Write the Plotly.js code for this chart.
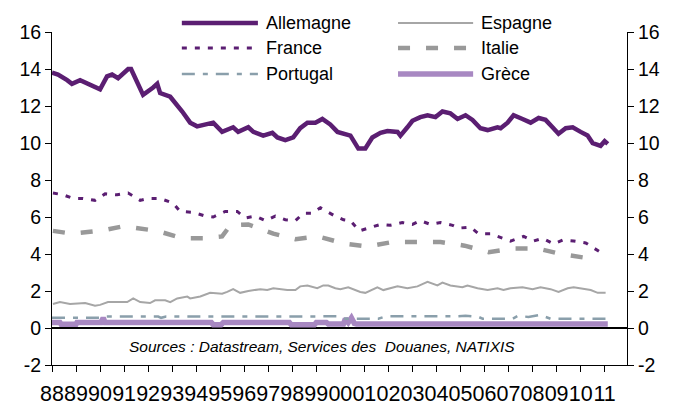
<!DOCTYPE html>
<html>
<head>
<meta charset="utf-8">
<script src="https://cdn.plot.ly/plotly-3.0.1.min.js"></script>
<style>html,body{margin:0;padding:0;background:#fff}#chart{width:681px;height:405px}</style>
</head>
<body>
<div id="chart"></div>
<script>
// ---- data (decimal years) ----
var yearTicks = [1988,1989,1990,1991,1992,1993,1994,1995,1996,1997,1998,1999,2000,2001,2002,2003,2004,2005,2006,2007,2008,2009,2010,2011];
var yearLabels = ['88','89','90','91','92','93','94','95','96','97','98','99','00','01','02','03','04','05','06','07','08','09','10','11'];
var yTicks = [-2,0,2,4,6,8,10,12,14,16];

var allemagneX = [1988.00,1988.25,1988.63,1988.83,1989.17,1989.50,1989.79,1990.00,1990.29,1990.50,1990.75,1991.17,1991.29,1991.79,1992.21,1992.38,1992.50,1992.92,1993.42,1993.75,1994.04,1994.46,1994.71,1995.08,1995.54,1995.75,1996.17,1996.38,1996.79,1997.17,1997.38,1997.71,1998.04,1998.33,1998.63,1998.96,1999.25,1999.58,1999.88,2000.42,2000.75,2001.04,2001.33,2001.67,2001.96,2002.38,2002.50,2002.79,2003.00,2003.33,2003.63,2003.96,2004.25,2004.58,2004.88,2005.21,2005.50,2005.83,2006.13,2006.54,2006.67,2006.96,2007.21,2007.58,2007.92,2008.25,2008.54,2008.83,2009.08,2009.38,2009.67,2010.00,2010.29,2010.50,2010.83,2011.00,2011.13];
var allemagneY = [13.8,13.7,13.4,13.2,13.4,13.2,13.0,12.9,13.6,13.7,13.5,14.0,14.0,12.6,13.0,13.2,12.7,12.5,11.7,11.1,10.9,11.0,11.1,10.6,10.85,10.6,10.85,10.6,10.4,10.55,10.3,10.15,10.3,10.8,11.1,11.1,11.3,11.0,10.6,10.4,9.7,9.7,10.3,10.55,10.65,10.6,10.4,10.85,11.2,11.4,11.5,11.4,11.7,11.6,11.3,11.5,11.25,10.8,10.7,10.85,10.8,11.1,11.5,11.3,11.1,11.35,11.25,10.85,10.5,10.8,10.85,10.6,10.4,10.0,9.85,10.1,9.95];

var espagneX = [1988.04,1988.33,1988.75,1989.17,1989.38,1989.79,1990.00,1990.33,1991.13,1991.38,1991.67,1992.08,1992.29,1992.71,1992.92,1993.21,1993.63,1993.75,1994.17,1994.58,1995.08,1995.29,1995.54,1995.83,1996.17,1996.67,1996.96,1997.21,1997.79,1998.13,1998.33,1998.63,1999.04,1999.29,1999.50,1999.79,2000.00,2000.33,2000.83,2001.04,2001.54,2001.79,2002.38,2002.79,2003.21,2003.46,2003.63,2004.04,2004.25,2004.58,2005.08,2005.29,2005.71,2006.13,2006.54,2006.79,2007.08,2007.58,2008.00,2008.33,2008.75,2009.08,2009.46,2009.71,2010.13,2010.42,2010.71,2011.04];
var espagneY = [1.3,1.4,1.3,1.35,1.35,1.2,1.25,1.4,1.4,1.6,1.4,1.35,1.5,1.5,1.4,1.6,1.7,1.6,1.7,1.9,1.85,1.95,2.1,1.9,2.0,2.1,2.05,2.15,2.05,2.05,2.25,2.3,2.15,2.3,2.3,2.15,2.1,2.2,1.95,1.9,2.2,2.05,2.25,2.15,2.25,2.4,2.5,2.3,2.45,2.3,2.2,2.3,2.15,2.05,2.15,2.05,2.15,2.2,2.1,2.2,2.1,1.95,2.15,2.2,2.1,2.05,1.9,1.9];

var franceX = [1988.04,1988.46,1988.88,1989.29,1989.79,1990.21,1990.71,1991.17,1991.67,1992.00,1992.50,1993.04,1993.33,1993.88,1994.38,1994.71,1995.21,1995.71,1996.04,1996.46,1996.88,1997.29,1997.71,1998.13,1998.46,1998.83,1999.17,1999.71,2000.13,2000.42,2000.79,2001.13,2001.67,2002.08,2002.58,2003.00,2003.33,2003.75,2004.17,2004.67,2004.92,2005.42,2005.75,2006.25,2006.75,2007.08,2007.63,2008.04,2008.42,2008.88,2009.25,2009.71,2010.21,2010.71,2010.88];
var franceY = [7.3,7.2,7.0,7.0,6.9,7.25,7.2,7.3,6.9,7.0,7.0,6.75,6.3,6.25,6.05,6.0,6.3,6.3,5.95,6.05,5.8,6.05,5.85,5.8,6.2,6.2,6.5,6.1,5.85,5.8,5.25,5.4,5.6,5.55,5.7,5.6,5.8,5.6,5.7,5.55,5.4,5.45,5.1,5.1,4.85,4.7,4.95,4.7,4.85,4.55,4.75,4.7,4.6,4.2,4.05];

var italieX = [1988.04,1988.83,1989.58,1990.21,1990.96,1991.58,1992.38,1993.42,1994.29,1995.08,1995.42,1996.17,1997.21,1998.13,1999.08,2000.21,2001.13,2002.17,2003.21,2004.17,2005.17,2006.17,2007.21,2008.21,2009.17,2010.17,2010.63];
var italieY = [5.25,5.1,5.2,5.3,5.5,5.4,5.25,4.85,4.85,4.95,5.55,5.6,5.1,4.8,4.95,4.55,4.4,4.65,4.65,4.65,4.45,4.1,4.3,4.3,4.0,3.8,3.8];

var portugalX = [1988.00,1990.00,1990.17,1992.42,1992.54,1992.75,2000.00,2000.21,2001.58,2001.88,2004.79,2005.21,2005.75,2005.92,2007.17,2007.38,2007.83,2008.25,2008.54,2008.75,2011.13];
var portugalY = [0.55,0.55,0.62,0.62,0.55,0.62,0.63,0.5,0.5,0.63,0.63,0.66,0.6,0.5,0.5,0.65,0.6,0.7,0.6,0.5,0.5];

var greceX = [1988.00,1988.33,1988.38,1989.00,1989.04,1990.04,1990.13,1990.21,1994.63,1994.71,1995.04,1995.13,1997.88,1997.96,1998.92,1999.00,1999.42,1999.50,2000.13,2000.21,2000.33,2000.46,2000.58,2000.67,2011.13];
var greceY = [0.3,0.3,0.2,0.2,0.3,0.3,0.55,0.3,0.3,0.18,0.18,0.3,0.3,0.17,0.17,0.3,0.3,0.22,0.22,0.5,0.3,0.55,0.25,0.22,0.22];

var seriesNames = ['Allemagne','Espagne','France','Italie','Portugal','Grèce'];

// ---- styles ----
var FONT = 'Liberation Sans, Arial, sans-serif';
var styles = {
  'Allemagne': {color:'#5B1E72', width:4.5, dash:'solid'},
  'Espagne':   {color:'#A6A6A6', width:2, dash:'solid'},
  'France':    {color:'#5B1E72', width:3, dash:'5px,8px'},
  'Italie':    {color:'#999999', width:4.5, dash:'12px,16px'},
  'Portugal':  {color:'#8A9FAB', width:2.5, dash:'13px,8px,5px,8px'},
  'Grèce':     {color:'#A888C2', width:5.5, dash:'solid'}
};
var xs = {'Allemagne':allemagneX,'Espagne':espagneX,'France':franceX,'Italie':italieX,'Portugal':portugalX,'Grèce':greceX};
var ys = {'Allemagne':allemagneY,'Espagne':espagneY,'France':franceY,'Italie':italieY,'Portugal':portugalY,'Grèce':greceY};

var drawOrder = ['Grèce','Portugal','Espagne','Italie','France','Allemagne'];
var traces = drawOrder.map(function(n){
  return {x:xs[n], y:ys[n], name:n, type:'scatter', mode:'lines',
          yaxis: (n === 'Allemagne') ? 'y2' : 'y',
          line:{color:styles[n].color, width:styles[n].width, dash:styles[n].dash},
          showlegend:false, hoverinfo:'skip'};
});

// ---- legend built from shapes + annotations (two columns) ----
var legendCols = [['Allemagne','France','Portugal'],['Espagne','Italie','Grèce']];
var colX = [[0.2258,0.3581,0.368],[0.6018,0.7324,0.7430]];
var rowY = [1.027,0.952,0.874];
var shapes = [], annotations = [];
legendCols.forEach(function(col,ci){
  col.forEach(function(n,ri){
    shapes.push({type:'line', xref:'paper', yref:'paper', x0:colX[ci][0], x1:colX[ci][1], y0:rowY[ri], y1:rowY[ri],
      line:{color:styles[n].color, width:styles[n].width, dash:styles[n].dash}});
    annotations.push({xref:'paper', yref:'paper', x:colX[ci][2], y:rowY[ri], xanchor:'left', yanchor:'middle',
      text:n, showarrow:false, font:{family:FONT, size:18, color:'#000'}});
  });
});
annotations.push({xref:'paper', yref:'paper', x:0.4687, y:0.0556, xanchor:'center', yanchor:'middle',
  text:'<i>Sources : Datastream, Services des  Douanes, NATIXIS</i>', showarrow:false,
  font:{family:FONT, size:15.5, color:'#000'}});

var yaxisCommon = {range:[-2,16], tickmode:'array', tickvals:yTicks, ticktext:yTicks.map(String),
  ticks:'outside', ticklen:6, tickcolor:'#000', tickwidth:1, showline:true, linecolor:'#000', linewidth:1,
  showgrid:false, tickfont:{family:FONT, size:19.5, color:'#000'}, fixedrange:true};

var layout = {
  width:681, height:405,
  margin:{l:52, r:54, t:32, b:40, pad:0},
  paper_bgcolor:'#fff', plot_bgcolor:'#fff',
  font:{family:FONT, color:'#000'},
  showlegend:false,
  xaxis:{type:'linear', range:[1988, 2011.93], tickmode:'array', tickvals:yearTicks, ticktext:yearLabels,
    tickangle:0, ticks:'outside', ticklen:6, tickcolor:'#000', tickwidth:1, showline:true, linecolor:'#000', linewidth:1,
    showgrid:false, zeroline:false, tickfont:{family:FONT, size:21.5, color:'#000'}, ticklabelstandoff:3, fixedrange:true},
  yaxis:Object.assign({}, yaxisCommon, {side:'left', zeroline:true, zerolinecolor:'#000', zerolinewidth:1.5}),
  yaxis2:Object.assign({}, yaxisCommon, {side:'right', overlaying:'y', zeroline:false}),
  shapes:shapes,
  annotations:annotations
};

Plotly.newPlot('chart', traces, layout, {displayModeBar:false, staticPlot:true});
</script>
</body>
</html>
